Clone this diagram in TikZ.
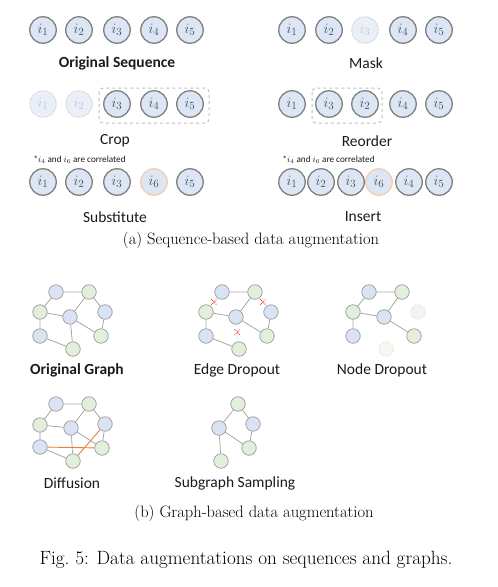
\documentclass[tikz,border=0pt]{standalone}
\usepackage{fontspec}
\setsansfont{Carlito}
\usetikzlibrary{shapes.misc}
\definecolor{seqfill}{HTML}{DCE6F4}
\definecolor{seqborder}{HTML}{7F7F7F}
\definecolor{fadefill}{HTML}{EBF0F8}
\definecolor{fadeborder}{HTML}{C8CED6}
\definecolor{fadetxt}{HTML}{C0C8D4}
\definecolor{itxt}{HTML}{4A5460}
\definecolor{orangeb}{HTML}{F8CBAD}
\definecolor{gblue}{HTML}{DAE3F3}
\definecolor{ggreen}{HTML}{E2EFDA}
\definecolor{gborder}{HTML}{9A9A9A}
\definecolor{gedge}{HTML}{A6A6A6}
\definecolor{diffo}{HTML}{ED7D31}
\definecolor{labtxt}{HTML}{1A1A1A}
\definecolor{dashb}{HTML}{BFBFBF}
\tikzset{
  seq/.style={circle, draw=seqborder, line width=1.3pt, fill=seqfill, minimum size=26.5pt, inner sep=0pt, text=itxt, font=\fontsize{15.5}{15.5}\selectfont},
  seqfaded/.style={circle, draw=fadeborder, densely dotted, line width=1pt, fill=fadefill, minimum size=26.5pt, inner sep=0pt, text=fadetxt, font=\fontsize{15.5}{15.5}\selectfont},
  seqorange/.style={seq, draw=orangeb},
  lab/.style={font=\sffamily\fontsize{15.5}{15.5}\selectfont, text=labtxt},
  blab/.style={font=\sffamily\bfseries\fontsize{15.5}{15.5}\selectfont, text=labtxt},
  note/.style={font=\sffamily\fontsize{9.2}{9.2}\selectfont, text=labtxt, anchor=west},
  cropbox/.style={draw=dashb, dashed, line width=1pt, rounded corners=4pt},
  gb/.style={circle, draw=gborder, line width=0.7pt, fill=gblue, minimum size=14.5pt, inner sep=0pt},
  gg/.style={gb, fill=ggreen},
  gbdrop/.style={gb, draw=orangeb, densely dotted, fill=gblue!40},
  ggdrop/.style={gb, draw=orangeb, densely dotted, fill=ggreen!40},
  ge/.style={draw=gedge, line width=0.8pt},
  gedrop/.style={draw=gedge!60, line width=0.7pt, densely dotted},
  gediff/.style={draw=diffo, line width=0.9pt},
  xmark/.style={cross out, draw=red!85, line width=0.8pt, minimum size=5pt, inner sep=0pt},
  captext/.style={font=\fontsize{16.5}{17}\selectfont, text=black},
}
\begin{document}
\begin{tikzpicture}[x=1pt,y=-1pt]
\useasboundingbox (0,0) rectangle (498,587);
% ---------- Original sequence
\node[seq] (o1) at (43,30) {$i_1$};
\node[seq] (o2) at (79,30) {$i_2$};
\node[seq] (o3) at (117,30) {$i_3$};
\node[seq] (o4) at (154,30) {$i_4$};
\node[seq] (o5) at (190,30) {$i_5$};
\node[blab] (lorig) at (117,63) {Original Sequence};
% ---------- Mask
\node[seq] (m1) at (292,30) {$i_1$};
\node[seq] (m2) at (329,30) {$i_2$};
\node[seqfaded] (m3) at (365,30) {$i_3$};
\node[seq] (m4) at (403,30) {$i_4$};
\node[seq] (m5) at (439,30) {$i_5$};
\node[lab] (lmask) at (366,63) {Mask};
% ---------- Crop
\node[seqfaded] (c1) at (43,104) {$i_1$};
\node[seqfaded] (c2) at (79,104) {$i_2$};
\node[seq] (c3) at (117,104) {$i_3$};
\node[seq] (c4) at (154,104) {$i_4$};
\node[seq] (c5) at (190,104) {$i_5$};
\draw[cropbox] (99,88) rectangle (209,123);
\node[lab] (lcrop) at (115,141) {Crop};
% ---------- Reorder
\node[seq] (r1) at (292,104) {$i_1$};
\node[seq] (r2) at (329,104) {$i_3$};
\node[seq] (r3) at (365,104) {$i_2$};
\node[seq] (r4) at (403,104) {$i_4$};
\node[seq] (r5) at (439,104) {$i_5$};
\draw[cropbox] (312,88) rectangle (382,123);
\node[lab] (lreord) at (367,141) {Reorder};
% ---------- Substitute
\node[note] (nsub) at (30,160) {*$i_4$ and $i_6$ are correlated};
\node[seq] (s1) at (43,182) {$i_1$};
\node[seq] (s2) at (79,182) {$i_2$};
\node[seq] (s3) at (117,182) {$i_3$};
\node[seqorange] (s4) at (154,182) {$i_6$};
\node[seq] (s5) at (190,182) {$i_5$};
\node[lab] (lsub) at (115,217) {Substitute};
% ---------- Insert
\node[note] (nins) at (279,160) {*$i_4$ and $i_6$ are correlated};
\node[seq] (n1) at (292,182) {$i_1$};
\node[seq] (n2) at (321,182) {$i_2$};
\node[seq] (n3) at (351,182) {$i_3$};
\node[seqorange] (n4) at (379,182) {$i_6$};
\node[seq] (n5) at (409,182) {$i_4$};
\node[seq] (n6) at (439,182) {$i_5$};
\node[lab] (lins) at (363,217) {Insert};
\node[captext] (capa) at (251,240) {(a)\ Sequence-based data augmentation};
% ---------- Original graph
\node[gb] (oA) at (56,292) {};
\node[gg] (oB) at (89,292) {};
\node[gg] (oC) at (40,312) {};
\node[gb] (oD) at (70,317) {};
\node[gb] (oE) at (105,312) {};
\node[gb] (oF) at (40,336) {};
\node[gg] (oG) at (101,336) {};
\node[gg] (oH) at (73,349) {};
\draw[ge] (oA)--(oB) (oA)--(oC) (oB)--(oD) (oB)--(oE) (oC)--(oD) (oC)--(oF) (oD)--(oH) (oD)--(oG) (oE)--(oG) (oF)--(oH);
\node[blab] (logr) at (77,370) {Original Graph};
% ---------- Edge dropout
\node[gb] (eA) at (222,292) {};
\node[gg] (eB) at (255,292) {};
\node[gg] (eC) at (206,312) {};
\node[gb] (eD) at (236,317) {};
\node[gb] (eE) at (271,312) {};
\node[gb] (eF) at (206,336) {};
\node[gg] (eG) at (267,336) {};
\node[gg] (eH) at (239,349) {};
\draw[ge] (eA)--(eB) (eB)--(eD) (eC)--(eD) (eC)--(eF) (eD)--(eG) (eE)--(eG) (eF)--(eH);
\draw[gedrop] (eA)--(eC) node[midway, xmark] (x1) {};
\draw[gedrop] (eB)--(eE) node[midway, xmark] (x2) {};
\draw[gedrop] (eD)--(eH) node[pos=0.45, xmark] (x3) {};
\node[lab] (ledge) at (237,370) {Edge Dropout};
% ---------- Node dropout
\node[gb] (dA) at (369,292) {};
\node[gg] (dB) at (402,292) {};
\node[gg] (dC) at (353,312) {};
\node[gb] (dD) at (384,317) {};
\node[gbdrop] (dE) at (418,312) {};
\node[gb] (dF) at (353,336) {};
\node[gg] (dG) at (414,336) {};
\node[ggdrop] (dH) at (386,349) {};
\draw[ge] (dA)--(dB) (dA)--(dC) (dB)--(dD) (dC)--(dD) (dC)--(dF) (dD)--(dG);
\node[lab] (lnode) at (382,370) {Node Dropout};
% ---------- Diffusion
\node[gb] (fA) at (56,404) {};
\node[gg] (fB) at (89,404) {};
\node[gg] (fC) at (40,425) {};
\node[gb] (fD) at (71,428) {};
\node[gb] (fE) at (105,424) {};
\node[gb] (fF) at (40,447) {};
\node[gg] (fG) at (102,448) {};
\node[gg] (fH) at (73,461) {};
\draw[ge] (fA)--(fB) (fA)--(fC) (fB)--(fD) (fB)--(fE) (fC)--(fD) (fC)--(fF) (fD)--(fH) (fD)--(fG) (fE)--(fG) (fF)--(fH);
\draw[gediff] (fF)--(fG) (fH)--(fE);
\node[lab] (ldiff) at (72,483) {Diffusion};
% ---------- Subgraph sampling
\node[gg] (sB) at (238,404) {};
\node[gb] (sD) at (219,428) {};
\node[gb] (sE) at (253,424) {};
\node[gg] (sG) at (249,448) {};
\node[gg] (sH) at (221,461) {};
\draw[ge] (sB)--(sD) (sB)--(sE) (sD)--(sG) (sE)--(sG) (sD)--(sH);
\node[lab] (lsubg) at (235,483) {Subgraph Sampling};
\node[captext] (capb) at (254,513) {(b)\ Graph-based data augmentation};
\node[font=\fontsize{19.2}{20}\selectfont] (fig) at (246,560) {Fig.~5: Data augmentations on sequences and graphs.};
\end{tikzpicture}
\end{document}
